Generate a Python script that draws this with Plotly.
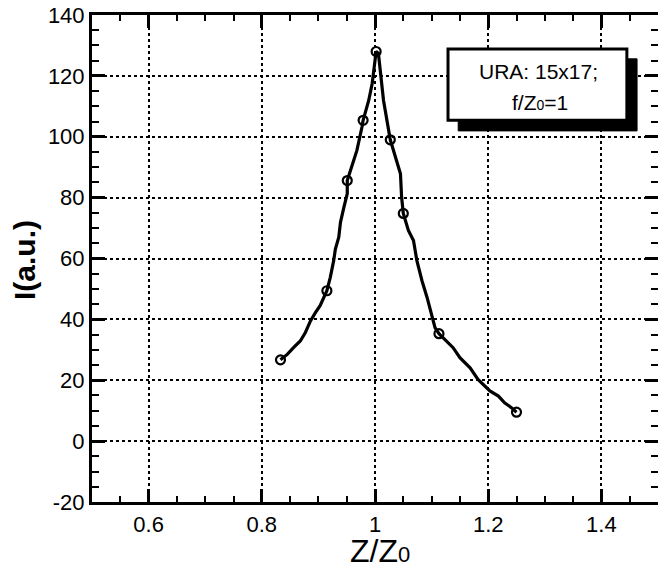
import plotly.graph_objects as go

# Curve (traced) values
curve_x = [0.833, 0.845, 0.856, 0.868, 0.877, 0.886, 0.895, 0.903, 0.915, 0.921, 0.927, 0.930,
           0.936, 0.939, 0.945, 0.951, 0.951, 0.959, 0.968, 0.977, 0.979, 0.989, 0.995, 1.000,
           1.002, 1.006, 1.015, 1.027, 1.036, 1.045, 1.047, 1.050, 1.059, 1.068, 1.074, 1.083,
           1.092, 1.100, 1.106, 1.113, 1.127, 1.138, 1.150, 1.168, 1.182, 1.203, 1.218, 1.229,
           1.241, 1.250]
curve_y = [26.7, 28.5, 30.7, 32.9, 35.7, 39.5, 42.3, 44.5, 49.4, 53.8, 59.3, 63.1,
           67.0, 71.9, 76.8, 81.3, 85.6, 90.0, 95.5, 103.2, 105.4, 112.0, 117.5, 125.0,
           128.0, 127.4, 112.0, 99.0, 93.3, 87.8, 80.2, 74.8, 69.2, 65.9, 59.3, 52.7,
           47.2, 41.7, 37.3, 35.3, 32.9, 30.7, 27.4, 24.1, 20.3, 16.5, 14.8, 12.6,
           11.0, 9.5]

# Marked data points
point_x = [0.833, 0.915, 0.951, 0.979, 1.002, 1.027, 1.050, 1.113, 1.250]
point_y = [26.7, 49.4, 85.6, 105.4, 128.0, 99.0, 74.8, 35.3, 9.5]

x_ticks = [0.6, 0.8, 1.0, 1.2, 1.4]
x_labels = ["0.6", "0.8", "1", "1.2", "1.4"]
y_ticks = [-20, 0, 20, 40, 60, 80, 100, 120, 140]
y_labels = ["-20", "0", "20", "40", "60", "80", "100", "120", "140"]

legend_line1 = "URA: 15x17;"
legend_line2 = "f/Z<span style='font-size:14px'>0</span>=1"
x_title = "Z/Z<span style='font-size:22px'>0</span>"
y_title = "<b>I(a.u.)</b>"

FONT = "Liberation Sans, Arial, sans-serif"

fig = go.Figure()
fig.add_trace(go.Scatter(x=curve_x, y=curve_y, mode="lines",
                         line=dict(color="black", width=3.2), showlegend=False))
fig.add_trace(go.Scatter(x=point_x, y=point_y, mode="markers",
                         marker=dict(symbol="circle-open", size=9, color="black",
                                     line=dict(width=2.2, color="black")),
                         showlegend=False))

axis_common = dict(
    showline=True, linecolor="black", linewidth=3, mirror="allticks",
    ticks="inside", ticklen=13, tickwidth=2.5, tickcolor="black",
    showgrid=True, gridcolor="black", gridwidth=2, griddash="dot",
    zeroline=False, automargin=False,
    tickfont=dict(family=FONT, size=22, color="black"),
)

fig.update_xaxes(range=[0.5, 1.5], tickvals=x_ticks, ticktext=x_labels, ticklabelstandoff=1,
                 minor=dict(dtick=0.05, ticks="inside", ticklen=6, tickwidth=2,
                            tickcolor="black", showgrid=False),
                 **axis_common)
fig.update_yaxes(range=[-20, 140], tickvals=y_ticks, ticktext=y_labels,
                 minor=dict(dtick=5, ticks="inside", ticklen=7, tickwidth=2,
                            tickcolor="black", showgrid=False),
                 **axis_common)

# axis titles
fig.add_annotation(xref="paper", yref="paper", x=(380 - 92) / 566, y=(502 - 551) / 487,
                   xanchor="center", yanchor="middle",
                   text=x_title, showarrow=False,
                   font=dict(family=FONT, size=32, color="black"))
fig.add_annotation(xref="paper", yref="paper", x=(24 - 92) / 566, y=(502 - 260) / 487,
                   xanchor="center", yanchor="middle",
                   text=y_title, showarrow=False, textangle=-90,
                   font=dict(family=FONT, size=30, color="black"))

# legend box with shadow
fig.add_shape(type="rect", xref="paper", yref="paper", x0=0.647, x1=0.963, y0=0.762, y1=0.910,
              fillcolor="black", line=dict(color="black", width=1), layer="above")
fig.add_shape(type="rect", xref="paper", yref="paper", x0=0.629, x1=0.945, y0=0.784, y1=0.930,
              fillcolor="white", line=dict(color="black", width=3), layer="above")
fig.add_annotation(xref="paper", yref="paper", x=(538 - 92) / 566, y=(502 - 71) / 487,
                   text=legend_line1, xanchor="center", yanchor="middle",
                   showarrow=False, font=dict(family=FONT, size=21, color="black"))
fig.add_annotation(xref="paper", yref="paper", x=(540 - 92) / 566, y=(502 - 102) / 487,
                   text=legend_line2, xanchor="center", yanchor="middle",
                   showarrow=False, font=dict(family=FONT, size=21, color="black"))

fig.update_layout(width=658, height=568,
                  margin=dict(l=92, r=0, t=15, b=66, autoexpand=False),
                  paper_bgcolor="white", plot_bgcolor="white")

fig.write_html("out.html", config={"displayModeBar": False},
               post_script="document.body.style.margin='0';document.body.style.overflow='hidden';")
